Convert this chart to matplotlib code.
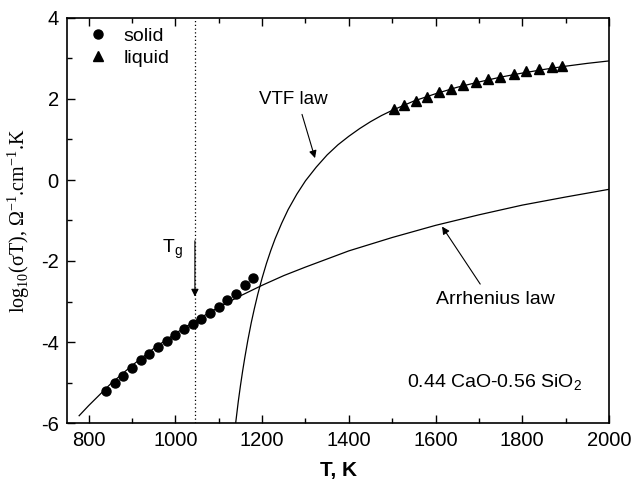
import matplotlib
matplotlib.use("Agg")
import matplotlib.pyplot as plt
import numpy as np
from matplotlib.ticker import MultipleLocator

plt.rcParams['font.family'] = ['Liberation Sans', 'DejaVu Sans']
plt.rcParams['axes.unicode_minus'] = False

# measured points
solid_T = [840, 860, 880, 900, 920, 940, 960, 980, 1000, 1020, 1040,
           1060, 1080, 1100, 1120, 1140, 1160, 1180]
solid_y = [-5.20, -5.02, -4.84, -4.63, -4.45, -4.29, -4.13, -3.97, -3.83,
           -3.69, -3.56, -3.42, -3.28, -3.14, -2.96, -2.81, -2.60, -2.42]

liquid_T = [1503, 1528, 1555, 1581, 1607, 1635, 1664, 1693, 1721, 1749,
            1780, 1808, 1839, 1869, 1892]
liquid_y = [1.75, 1.84, 1.96, 2.06, 2.17, 2.25, 2.34, 2.42, 2.49, 2.55,
            2.62, 2.68, 2.73, 2.79, 2.81]

# fitted curves
vtf_T = [1139, 1145, 1150, 1155, 1160, 1167, 1175, 1182, 1190, 1200, 1210,
         1220, 1230, 1245, 1260, 1280, 1300, 1325, 1350, 1375, 1400, 1425,
         1450, 1475, 1500, 1550, 1600, 1650, 1700, 1750, 1800, 1850, 1900,
         1950, 2000]
vtf_y = [-6.00, -5.47, -5.08, -4.72, -4.39, -3.96, -3.52, -3.18, -2.82, -2.42,
         -2.06, -1.74, -1.45, -1.07, -0.73, -0.35, -0.02, 0.32, 0.62, 0.87,
         1.08, 1.27, 1.44, 1.59, 1.72, 1.95, 2.13, 2.29, 2.42, 2.54, 2.64,
         2.73, 2.81, 2.88, 2.94]

arr_T = [778, 800, 850, 900, 950, 1000, 1050, 1100, 1150, 1200, 1250, 1300,
         1400, 1500, 1600, 1700, 1800, 1900, 2000]
arr_y = [-5.82, -5.57, -5.04, -4.58, -4.16, -3.79, -3.45, -3.14, -2.86,
         -2.60, -2.36, -2.15, -1.75, -1.42, -1.12, -0.86, -0.62, -0.42, -0.23]

Tg = 1045

fig = plt.figure(figsize=(6.35, 4.86), dpi=100)
ax = fig.add_axes([67 / 635, 1 - 423 / 486, 542 / 635, 405 / 486])

ax.plot(vtf_T, vtf_y, color='black', lw=0.9)
ax.plot(arr_T, arr_y, color='black', lw=0.9)
ax.plot(solid_T, solid_y, 'o', color='black', ms=6.5, ls='none', label='solid')
ax.plot(liquid_T, liquid_y, '^', color='black', ms=7, ls='none', label='liquid')

ax.axvline(Tg, color='black', ls=(0, (1, 2)), lw=0.9)

ax.set_xlim(750, 2000)
ax.set_ylim(-6, 4)
ax.xaxis.set_major_locator(MultipleLocator(200))
ax.xaxis.set_minor_locator(MultipleLocator(100))
ax.yaxis.set_major_locator(MultipleLocator(2))
ax.yaxis.set_minor_locator(MultipleLocator(1))
ax.tick_params(which='both', direction='in', top=True, right=False,
               labelsize=14.5, width=1.0)
ax.tick_params(which='major', length=6)
ax.tick_params(which='minor', length=3.5)
ax.tick_params(axis='x', pad=6)
ax.tick_params(axis='y', pad=6)
for s in ax.spines.values():
    s.set_linewidth(1.2)

ax.set_xlabel('T, K', fontsize=15, fontweight='bold', labelpad=8)
ax.set_ylabel(r'log$_\mathregular{10}$(σT), Ω$^\mathregular{-1}$.cm$^\mathregular{-1}$.K',
              fontsize=14.5, family='Liberation Serif', labelpad=6)

leg = ax.legend(loc='upper left', frameon=False, fontsize=14,
                handletextpad=0.5, borderaxespad=0.4, labelspacing=0.25,
                handlelength=1.6, bbox_to_anchor=(0, 1.016))

arrowprops = dict(arrowstyle='-|>', color='black', lw=0.8,
                  mutation_scale=11, shrinkA=0, shrinkB=0)
ax.text(1272, 2.0, 'VTF law', fontsize=13.5, ha='center', va='center')
ax.annotate('', xy=(1322, 0.54), xytext=(1292, 1.62), arrowprops=arrowprops)

ax.text(1738, -2.96, 'Arrhenius law', fontsize=14, ha='center', va='center')
ax.annotate('', xy=(1615, -1.15), xytext=(1703, -2.57), arrowprops=arrowprops)

ax.text(993, -1.72, r'T$_\mathregular{g}$', fontsize=14, ha='center', va='center')
ax.annotate('', xy=(Tg, -2.88), xytext=(Tg, -1.5), arrowprops=arrowprops)

ax.text(1535, -5.0, r'0.44 CaO-0.56 SiO$_\mathregular{2}$', fontsize=14,
        ha='left', va='center')

fig.savefig('out.png', dpi=100)
